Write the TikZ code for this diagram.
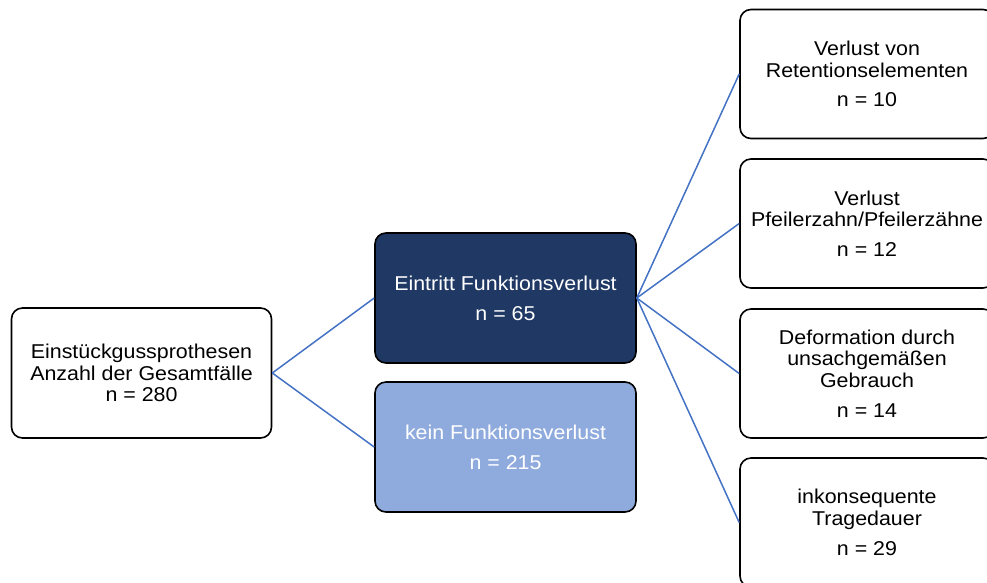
\documentclass[tikz,border=0pt]{standalone}
\usepackage{fontspec}
\setmainfont{Liberation Sans}[FakeStretch=1.07]
\usepackage{xcolor}
\usepackage{tikz}
\usetikzlibrary{positioning}
\definecolor{linkblue}{HTML}{4472C4}
\definecolor{darkblue}{HTML}{203864}
\definecolor{lightblue}{HTML}{8FAADC}
\tikzset{
  bx/.style={rectangle, rounded corners=11pt, draw=black, line width=1.6pt, fill=white,
    align=center, inner sep=0pt, font=\fontsize{20}{21.7}\selectfont},
  rootbx/.style={bx, minimum width=260pt, minimum height=130pt},
  midbx/.style={bx, minimum width=261pt, minimum height=130pt},
  failbx/.style={midbx, fill=darkblue, text=white},
  okbx/.style={midbx, fill=lightblue, text=white},
  causebx/.style={bx, minimum width=254pt, minimum height=129pt},
  lnk/.style={draw=linkblue, line width=1.5pt}
}

\begin{document}
\begin{tikzpicture}[x=1pt, y=-1pt]
        \useasboundingbox (0,0) rectangle (987,582);
        \clip (0,0) rectangle (987,582);
        \node[rootbx] (root) at (141.5,373) {Einstückgussprothesen\\Anzahl der Gesamtfälle\\n = 280};
        \node[failbx] (fail) at (505.5,298) {Eintritt Funktionsverlust\\[8pt]n = 65};
        \node[okbx] (ok) at (505.5,447) {kein Funktionsverlust\\[8pt]n = 215};
        \node[causebx] (c1) at (867,74) {Verlust von\\Retentionselementen\\[8pt]n = 10};
        \node[causebx] (c2) at (867,223.5) {Verlust\\Pfeilerzahn/Pfeilerzähne\\[8pt]n = 12};
        \node[causebx] (c3) at (867,373.5) {Deformation durch\\unsachgemäßen\\Gebrauch\\[8pt]n = 14};
        \node[causebx] (c4) at (867,522.5) {inkonsequente\\Tragedauer\\[8pt]n = 29};
        \draw[lnk] (root.east)--(fail.west); \draw[lnk] (root.east)--(ok.west);
        \foreach \c in {c1,c2,c3,c4}
          \draw[lnk] (fail.east)--(\c.west);
      \end{tikzpicture}
\end{document}
